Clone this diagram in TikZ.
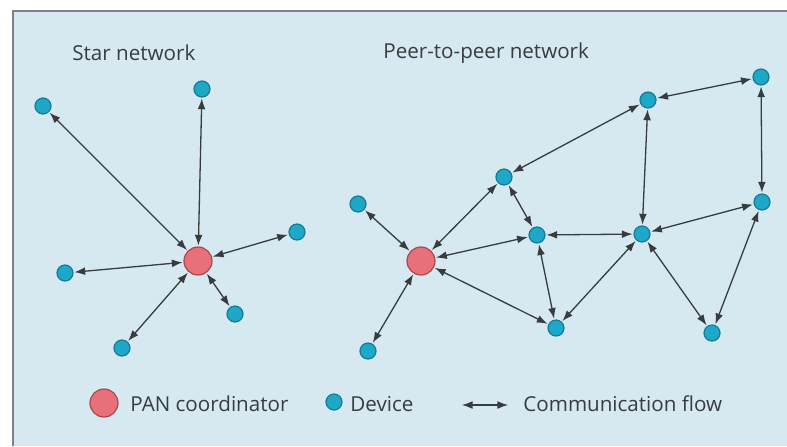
\documentclass[tikz,border=0pt]{standalone}
\usepackage{fontspec}
\setmainfont{Open Sans}
\usetikzlibrary{arrows.meta}
\definecolor{panel}{RGB}{214,233,240}
\definecolor{frameline}{RGB}{125,130,134}
\definecolor{devfill}{RGB}{30,168,200}
\definecolor{devedge}{RGB}{25,120,150}
\definecolor{panfill}{RGB}{232,112,122}
\definecolor{panedge}{RGB}{170,70,80}
\definecolor{ink}{RGB}{55,60,62}
\tikzset{
	pan/.style={circle,fill=panfill,draw=panedge,line width=0.6pt,minimum size=14pt,inner sep=0pt},
	dev/.style={circle,fill=devfill,draw=devedge,line width=0.6pt,minimum size=8pt,inner sep=0pt},
	flow/.style={<->,ink,line width=0.65pt,shorten <=0.4pt,shorten >=0.4pt},
	label/.style={anchor=west,text=ink,font=\fontsize{10.3}{12}\selectfont,inner sep=0pt}
}

\begin{document}
\begin{tikzpicture}[x=0.5pt,y=-0.5pt,>={Latex[length=5.4pt,width=3.9pt]}]
			\useasboundingbox (0,0) rectangle (787,446);
			\fill[white] (0,0) rectangle (787,446);
			\fill[panel] (12,10) rectangle (787,446);
			\draw[frameline,line width=1pt] (12.5,446) -- (12.5,10.5) -- (787,10.5);
			% star network
			\node[label] (startitle) at (72,53) {Star network};
			\node[pan] (sc) at (198,261) {};
			\node[dev] (s1) at (43,106) {};
			\node[dev] (s2) at (202,89) {};
			\node[dev] (s3) at (297,232) {};
			\node[dev] (s4) at (65,273) {};
			\node[dev] (s5) at (235,314) {};
			\node[dev] (s6) at (122,348) {};
			\draw[flow] (sc) -- (s1);
			\draw[flow] (sc) -- (s2);
			\draw[flow] (sc) -- (s3);
			\draw[flow] (sc) -- (s4);
			\draw[flow] (sc) -- (s5);
			\draw[flow] (sc) -- (s6);
			% peer-to-peer network
			\node[label] (p2ptitle) at (383,53) {Peer-to-peer network};
			\node[pan] (pc) at (421,261) {};
			\node[dev] (p1) at (358,204) {};
			\node[dev] (p2) at (368,351) {};
			\node[dev] (p3) at (504,177) {};
			\node[dev] (p4) at (648,100) {};
			\node[dev] (p5) at (761,77) {};
			\node[dev] (p6) at (762,202) {};
			\node[dev] (p7) at (537,235) {};
			\node[dev] (p8) at (642,234) {};
			\node[dev] (p9) at (556,328) {};
			\node[dev] (p10) at (712,333) {};
			\draw[flow] (pc) -- (p1);
			\draw[flow] (pc) -- (p2);
			\draw[flow] (pc) -- (p3);
			\draw[flow] (pc) -- (p7);
			\draw[flow] (pc) -- (p9);
			\draw[flow] (p3) -- (p4);
			\draw[flow] (p3) -- (p7);
			\draw[flow] (p4) -- (p5);
			\draw[flow] (p4) -- (p8);
			\draw[flow] (p5) -- (p6);
			\draw[flow] (p6) -- (p8);
			\draw[flow] (p6) -- (p10);
			\draw[flow] (p7) -- (p8);
			\draw[flow] (p7) -- (p9);
			\draw[flow] (p8) -- (p9);
			\draw[flow] (p8) -- (p10);
			% legend
			\node[pan] (keypan) at (104,403) {};
			\node[label] (keypantext) at (130,404) {PAN coordinator};
			\node[dev] (keydev) at (334,402) {};
			\node[label] (keydevtext) at (350,404) {Device};
			\coordinate (keyflowa) at (461,405);
			\coordinate (keyflowb) at (509,405);
			\draw[flow] (keyflowa) -- (keyflowb);
			\node[label] (keyflowtext) at (523,404) {Communication flow};
		\end{tikzpicture}
\end{document}
